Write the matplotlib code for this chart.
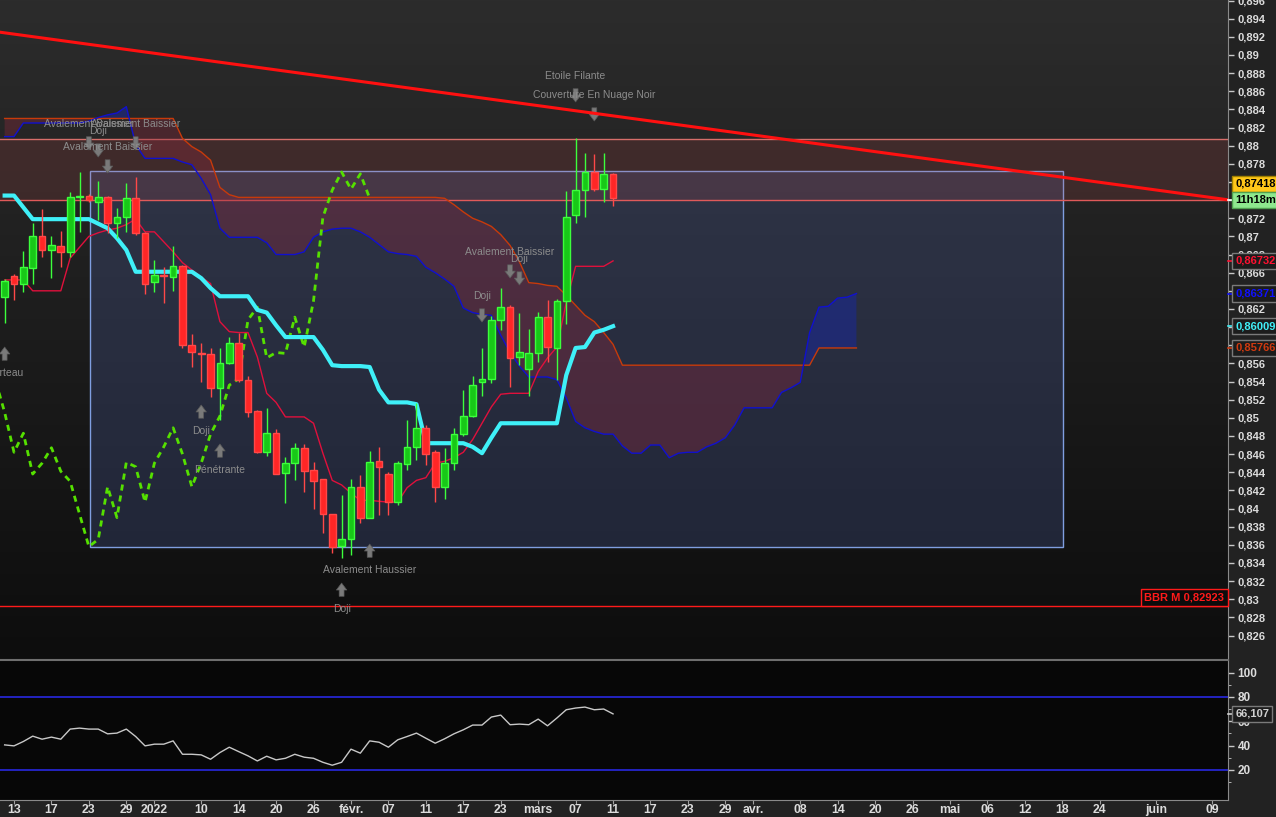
import numpy as np
import pandas as pd
import matplotlib
matplotlib.use("Agg")
import matplotlib.pyplot as plt
import matplotlib.transforms as mtransforms
from matplotlib.colors import LinearSegmentedColormap
from matplotlib.patches import Rectangle
from matplotlib.ticker import FixedLocator

plt.rcParams['font.family'] = ['Liberation Sans', 'DejaVu Sans']

## Daily candles, bar -1 = 10 Dec 2021 ... bar 64 = 11 Mar 2022
first_bar = '2021-12-10'

opens = [0.8633, 0.8656, 0.8647, 0.8665, 0.8700, 0.8685, 0.8689, 0.8683, 0.8743, 0.8745,
         0.8738, 0.8743, 0.8715, 0.8721, 0.8742, 0.8704, 0.8650, 0.8657, 0.8655, 0.8667,
         0.8580, 0.8571, 0.8570, 0.8533, 0.8560, 0.8583, 0.8542, 0.8507, 0.8462, 0.8483,
         0.8439, 0.8450, 0.8467, 0.8442, 0.8432, 0.8394, 0.8359, 0.8366, 0.8424, 0.8390,
         0.8452, 0.8438, 0.8407, 0.8449, 0.8468, 0.8489, 0.8462, 0.8424, 0.8450, 0.8482,
         0.8502, 0.8539, 0.8543, 0.8608, 0.8622, 0.8567, 0.8554, 0.8571, 0.8611, 0.8577,
         0.8629, 0.8724, 0.8751, 0.8771, 0.8752, 0.8769]
highs = [0.8653, 0.8659, 0.8684, 0.8715, 0.8730, 0.8700, 0.8706, 0.8749, 0.8771, 0.8747,
         0.8761, 0.8745, 0.8731, 0.8759, 0.8765, 0.8705, 0.8674, 0.8666, 0.8689, 0.8668,
         0.8592, 0.8582, 0.8577, 0.8577, 0.8589, 0.8593, 0.8546, 0.8509, 0.8511, 0.8488,
         0.8457, 0.8472, 0.8471, 0.8451, 0.8433, 0.8394, 0.8415, 0.8433, 0.8437, 0.8463,
         0.8468, 0.8440, 0.8452, 0.8498, 0.8516, 0.8492, 0.8465, 0.8467, 0.8489, 0.8531,
         0.8546, 0.8577, 0.8612, 0.8643, 0.8624, 0.8616, 0.8598, 0.8617, 0.8630, 0.8631,
         0.8750, 0.8808, 0.8792, 0.8791, 0.8792, 0.8770]
lows = [0.8604, 0.8630, 0.8639, 0.8647, 0.8677, 0.8654, 0.8666, 0.8677, 0.8705, 0.8738,
        0.8718, 0.8704, 0.8698, 0.8705, 0.8701, 0.8637, 0.8639, 0.8627, 0.8640, 0.8577,
        0.8556, 0.8539, 0.8523, 0.8498, 0.8559, 0.8539, 0.8501, 0.8461, 0.8458, 0.8438,
        0.8406, 0.8431, 0.8418, 0.8400, 0.8373, 0.8351, 0.8345, 0.8349, 0.8384, 0.8389,
        0.8393, 0.8393, 0.8404, 0.8442, 0.8453, 0.8448, 0.8407, 0.8411, 0.8442, 0.8480,
        0.8501, 0.8524, 0.8538, 0.8597, 0.8534, 0.8558, 0.8524, 0.8561, 0.8561, 0.8542,
        0.8603, 0.8715, 0.8721, 0.8750, 0.8738, 0.8733]
closes = [0.8651, 0.8647, 0.8666, 0.8700, 0.8685, 0.8690, 0.8683, 0.8743, 0.8745, 0.8740,
          0.8743, 0.8715, 0.8721, 0.8742, 0.8704, 0.8647, 0.8657, 0.8656, 0.8667, 0.8580,
          0.8572, 0.8570, 0.8533, 0.8560, 0.8582, 0.8542, 0.8506, 0.8462, 0.8483, 0.8438,
          0.8450, 0.8467, 0.8441, 0.8430, 0.8394, 0.8358, 0.8366, 0.8424, 0.8390, 0.8451,
          0.8446, 0.8407, 0.8450, 0.8468, 0.8489, 0.8460, 0.8424, 0.8450, 0.8482, 0.8502,
          0.8536, 0.8543, 0.8608, 0.8622, 0.8566, 0.8572, 0.8571, 0.8611, 0.8578, 0.8629,
          0.8721, 0.8751, 0.8771, 0.8752, 0.8769, 0.8742]

## Ichimoku lines (bars -1..64), senkou spans run 26 bars ahead (-1..90)
tenkan = [0.8652, 0.8652, 0.8652, 0.8640, 0.8640, 0.8640, 0.8640, 0.8676, 0.8688, 0.8700,
          0.8704, 0.8707, 0.8709, 0.8713, 0.8719, 0.8705, 0.8705, 0.8694, 0.8683, 0.8671,
          0.8663, 0.8655, 0.8648, 0.8606, 0.8595, 0.8594, 0.8594, 0.8567, 0.8527, 0.8517,
          0.8501, 0.8501, 0.8501, 0.8494, 0.8461, 0.8431, 0.8426, 0.8417, 0.8409, 0.8409,
          0.8408, 0.8407, 0.8407, 0.8423, 0.8431, 0.8434, 0.8450, 0.8452, 0.8456, 0.8462,
          0.8476, 0.8494, 0.8512, 0.8526, 0.8527, 0.8527, 0.8527, 0.8551, 0.8566, 0.8578,
          0.8627, 0.8667, 0.8667, 0.8667, 0.8667, 0.8673]
kijun = [0.8745, 0.8745, 0.8732, 0.8719, 0.8719, 0.8719, 0.8719, 0.8719, 0.8719, 0.8719,
         0.8714, 0.8709, 0.8698, 0.8685, 0.8661, 0.8661, 0.8661, 0.8661, 0.8661, 0.8661,
         0.8661, 0.8654, 0.8643, 0.8634, 0.8634, 0.8634, 0.8634, 0.8619, 0.8616, 0.8602,
         0.8589, 0.8589, 0.8589, 0.8589, 0.8575, 0.8558, 0.8557, 0.8557, 0.8557, 0.8556,
         0.8531, 0.8517, 0.8517, 0.8517, 0.8515, 0.8472, 0.8472, 0.8472, 0.8472, 0.8472,
         0.8468, 0.8461, 0.8478, 0.8494, 0.8494, 0.8494, 0.8494, 0.8494, 0.8494, 0.8494,
         0.8547, 0.8577, 0.8578, 0.8594, 0.8597, 0.8601]
span_a = [0.8830, 0.8830, 0.8830, 0.8830, 0.8830, 0.8830, 0.8830, 0.8830, 0.8830, 0.8830,
          0.8830, 0.8830, 0.8830, 0.8830, 0.8830, 0.8830, 0.8830, 0.8830, 0.8830, 0.8808,
          0.8799, 0.8793, 0.8784, 0.8754, 0.8746, 0.8743, 0.8743, 0.8743, 0.8743, 0.8743,
          0.8743, 0.8743, 0.8743, 0.8743, 0.8743, 0.8743, 0.8743, 0.8743, 0.8743, 0.8743,
          0.8743, 0.8743, 0.8743, 0.8743, 0.8743, 0.8743, 0.8743, 0.8742, 0.8735, 0.8727,
          0.8720, 0.8716, 0.8711, 0.8702, 0.8690, 0.8672, 0.8649, 0.8648, 0.8646, 0.8645,
          0.8635, 0.8624, 0.8613, 0.8606, 0.8594, 0.8581, 0.8558, 0.8558, 0.8558, 0.8558,
          0.8558, 0.8558, 0.8558, 0.8558, 0.8558, 0.8558, 0.8558, 0.8558, 0.8558, 0.8558,
          0.8558, 0.8558, 0.8558, 0.8558, 0.8558, 0.8558, 0.8558, 0.8577, 0.8577, 0.8577,
          0.8577, 0.8577]
span_b = [0.8810, 0.8810, 0.8825, 0.8825, 0.8825, 0.8825, 0.8825, 0.8825, 0.8825, 0.8827,
          0.8831, 0.8834, 0.8836, 0.8843, 0.8801, 0.8786, 0.8786, 0.8786, 0.8786, 0.8782,
          0.8779, 0.8764, 0.8746, 0.8709, 0.8699, 0.8699, 0.8699, 0.8699, 0.8693, 0.8680,
          0.8680, 0.8680, 0.8683, 0.8699, 0.8705, 0.8708, 0.8709, 0.8709, 0.8705, 0.8699,
          0.8691, 0.8683, 0.8681, 0.8680, 0.8678, 0.8666, 0.8660, 0.8653, 0.8645, 0.8621,
          0.8616, 0.8614, 0.8613, 0.8591, 0.8572, 0.8557, 0.8545, 0.8545, 0.8545, 0.8542,
          0.8522, 0.8496, 0.8489, 0.8485, 0.8482, 0.8482, 0.8469, 0.8461, 0.8461, 0.8470,
          0.8470, 0.8456, 0.8461, 0.8462, 0.8462, 0.8468, 0.8472, 0.8478, 0.8492, 0.8511,
          0.8511, 0.8511, 0.8511, 0.8528, 0.8533, 0.8539, 0.8594, 0.8622, 0.8623, 0.8632,
          0.8633, 0.8637]
chikou_shift = 26

## RSI (bars -1..64)
rsi = [40.6, 39.8, 43.4, 47.8, 45.3, 47.0, 45.3, 53.6, 54.4, 53.6,
       53.6, 49.7, 50.3, 53.6, 47.5, 39.8, 41.2, 41.2, 43.9, 32.9,
       32.9, 32.4, 28.8, 34.3, 38.7, 35.1, 31.6, 27.4, 31.3, 28.3,
       29.6, 32.9, 30.5, 29.6, 26.3, 23.9, 26.3, 37.1, 33.8, 43.9,
       42.8, 38.7, 44.8, 47.5, 50.3, 46.1, 42.0, 45.6, 49.7, 53.0,
       56.9, 56.9, 63.5, 65.1, 57.2, 57.7, 57.2, 61.8, 56.3, 62.7,
       69.5, 70.9, 71.7, 69.5, 70.1, 66.1]
rsi_levels = [80, 20]

## Drawings
trend_pts = [(0, 0.8923), (120, 0.8754)]
band_top, band_bottom = 0.8807, 0.8740
zone_x = (8.12, 112.1)
zone_y = (0.8358, 0.8772)
bbr_level = 0.82923

## Candlestick patterns: (text, bar, arrow tip price, +1 bearish / -1 bullish)
patterns = [
    ('Avalement Baissier', 8, 0.87953, 1),
    ('Doji', 9, 0.87875, 1),
    ('Avalement Baissier', 13, 0.87953, 1),
    ('Avalement Baissier', 10, 0.87699, 1),
    ('Etoile Filante', 60, 0.88482, 1),
    ('Couverture En Nuage Noir', 62, 0.88272, 1),
    ('Avalement Baissier', 53, 0.86541, 1),
    ('Doji', 54, 0.86464, 1),
    ('Doji', 50, 0.86056, 1),
    ('Marteau', -1, 0.85780, -1),
    ('Avalement Haussier', -3, 0.85119, -1),
    ('Doji', 20, 0.85141, -1),
    ('Pénétrante', 22, 0.84711, -1),
    ('Avalement Haussier', 38, 0.83608, -1),
    ('Doji', 35, 0.83178, -1),
]

tick_dates = ['2021-12-13', '2021-12-17', '2021-12-23', '2021-12-29', '2022-01-03',
              '2022-01-10', '2022-01-14', '2022-01-20', '2022-01-26', '2022-02-01',
              '2022-02-07', '2022-02-11', '2022-02-17', '2022-02-23', '2022-03-01',
              '2022-03-07', '2022-03-11', '2022-03-17', '2022-03-23', '2022-03-29',
              '2022-04-01', '2022-04-08', '2022-04-14', '2022-04-20', '2022-04-26',
              '2022-05-02', '2022-05-06', '2022-05-12', '2022-05-18', '2022-05-24',
              '2022-06-01', '2022-06-09']
tick_labels = ['13', '17', '23', '29', '2022', '10', '14', '20', '26', 'févr.',
               '07', '11', '17', '23', 'mars', '07', '11', '17', '23', '29',
               'avr.', '08', '14', '20', '26', 'mai', '06', '12', '18', '24',
               'juin', '09']
price_ticks = np.arange(0.826, 0.8965, 0.002)
# ticks hidden behind the value boxes on the right
covered_ticks = [0.858, 0.860, 0.864, 0.874, 0.876]

TXT = '#dcdcdc'

fig = plt.figure(figsize=(12.76, 8.17), dpi=100, facecolor='#222222')
W, H = 1276.0, 817.0
ax = fig.add_axes([0, 1 - 660 / H, 1228 / W, 660 / H])
ax2 = fig.add_axes([0, 1 - 800 / H, 1228 / W, 140 / H], sharex=ax)

# background gradient of the price panel
bg = LinearSegmentedColormap.from_list('bg', ['#2c2c2c', '#0d0d0d'])
ax.imshow(np.linspace(0, 1, 256).reshape(-1, 1), extent=(0, 1, 0, 1), transform=ax.transAxes,
          aspect='auto', cmap=bg, zorder=0)
ax.set_facecolor('#1a1a1a')
ax2.set_facecolor('#070707')

x = np.arange(len(opens)) - 1
xs = np.arange(len(span_a)) - 1
o, h, l, c = map(np.array, (opens, highs, lows, closes))
sa, sb = np.array(span_a), np.array(span_b)

# drawings
ax.add_patch(Rectangle((zone_x[0], zone_y[0]), zone_x[1] - zone_x[0], zone_y[1] - zone_y[0],
                       fc=(0.31, 0.39, 0.67, 0.25), ec='#7f9ee0', lw=1, zorder=1))
ax.axhspan(band_bottom, band_top, color=(0.78, 0.3, 0.3, 0.17), lw=0, zorder=1)
ax.axhline(band_top, color='#d66e6a', lw=1, zorder=2)
ax.axhline(band_bottom, color='#e05a5a', lw=1, zorder=2)
ax.axhline(bbr_level, color='#ff1a1a', lw=1, zorder=2)
ax.axline(trend_pts[0], trend_pts[1], color='#ff1010', lw=2.2, zorder=9)

# cloud
ax.fill_between(xs, sa, sb, where=sa >= sb, interpolate=True, color=(0.55, 0.16, 0.24, 0.36), lw=0, zorder=2)
ax.fill_between(xs, sa, sb, where=sa < sb, interpolate=True, color=(0.1, 0.16, 0.6, 0.55), lw=0, zorder=2)
ax.plot(xs, sa, color='#c83a0a', lw=1, zorder=3)
ax.plot(xs, sb, color='#1010d0', lw=1, zorder=3)

# lagging span: closes drawn 26 bars back
ax.plot(x[chikou_shift - 1:] - chikou_shift, c[chikou_shift - 1:], color='#55e000', lw=2,
        linestyle=(0, (2.2, 1.8)), zorder=4)
ax.plot(x, tenkan, color='#e0103c', lw=1, zorder=4)
ax.plot(x, kijun, color='#3ff0f8', lw=3, zorder=4)

# candles
up = c >= o
edge = np.where(up, '#3cff3c', '#ff4848')
ax.vlines(x, l, h, colors=edge, lw=1, zorder=6)
ax.bar(x, np.maximum(np.abs(c - o), 0.00003), bottom=np.minimum(o, c), width=0.72,
       color=np.where(up, '#18c818', '#ff2626'), edgecolor=edge, lw=1, zorder=7)

# pattern marks
for text, bar, tip, d in patterns:
    ax.annotate('', xy=(bar, tip), xytext=(0, 9.5 * d), textcoords='offset points',
                arrowprops=dict(arrowstyle='simple,head_length=0.5,head_width=0.75,tail_width=0.35',
                                fc='#7a7a7a', ec='#5a5a5a', lw=0.5, shrinkA=0, shrinkB=0,
                                mutation_scale=10), zorder=8)
    ax.annotate(text, xy=(bar, tip), xytext=(0, 18.5 * d), textcoords='offset points',
                ha='center', va='center', color='#8c8c8c', fontsize=7.5, zorder=8)

# axes limits and ticks
ax.set_xlim(-1.496, 129.7)
ax.set_ylim(0.82330, 0.89606)
ax2.set_ylim(-4.7, 110.4)
for a in (ax, ax2):
    for s in ('left', 'top', 'bottom'):
        a.spines[s].set_visible(False)
    a.spines['right'].set_color('#8a8a8a')
    a.yaxis.tick_right()
    a.tick_params(axis='y', colors='#c8c8c8', labelcolor=TXT, length=4, width=1, pad=3,
                  labelsize=8)
ax2.spines['top'].set_visible(True)
ax2.spines['top'].set_color('#6e6e6e')
ax2.spines['top'].set_linewidth(1.5)
ax2.spines['bottom'].set_visible(True)
ax2.spines['bottom'].set_color('#8a8a8a')

ax.yaxis.set_major_locator(FixedLocator(price_ticks))
ax.set_yticklabels(['' if np.isclose(covered_ticks, v).any()
                    else ('%.3f' % v).rstrip('0').replace('.', ',') for v in price_ticks],
                   fontweight='bold')
ax.tick_params(axis='x', bottom=False, labelbottom=False)

days = pd.bdate_range(first_bar, periods=200)
bar_of = {d: i - 1 for i, d in enumerate(days)}
ax2.set_xticks([bar_of[pd.Timestamp(d)] for d in tick_dates])
ax2.set_xticklabels(tick_labels, fontweight='bold')
ax2.tick_params(axis='x', colors='#a0a0a0', labelcolor=TXT, length=3, labelsize=8.8, pad=0)
ax2.set_yticks([20, 40, 60, 80, 100])
ax2.set_yticks([10, 30, 50, 70, 90], minor=True)
ax2.set_yticklabels(['20', '40', '60', '80', '100'], fontweight='bold')
ax2.tick_params(axis='y', which='minor', colors='#c8c8c8', length=2, right=True, left=False)
ax2.tick_params(axis='y', labelsize=8.5)

# RSI
for lev in rsi_levels:
    ax2.axhline(lev, color='#2828e0', lw=1.2)
ax2.plot(x, rsi, color='#c8c8c8', lw=1)

# value labels on the right axis
def side_label(axis, y, text, fc, tc, ec='#7a7a7a', tick=None):
    tr = mtransforms.blended_transform_factory(axis.transAxes, axis.transData)
    if tick:
        axis.plot([1.0, 1.004], [y, y], transform=tr, color=tick, lw=1.2, clip_on=False, zorder=19)
    axis.text(1.006, y, text, transform=tr, ha='left', va='center', fontsize=8,
              fontweight='bold', color=tc, clip_on=False, zorder=20,
              bbox=dict(boxstyle='square,pad=0.28', fc=fc, ec=ec, lw=1))

side_label(ax, 0.87580, '0,87418', '#ffc81a', '#000000', ec='#a08000')
side_label(ax, 0.87405, '11h18m', '#8ee88e', '#000000', ec='#50a050', tick='#ffffff')
side_label(ax, tenkan[-1], '0,86732', '#1c1c1c', '#ff1030', tick='#ff1030')
side_label(ax, span_b[-1], '0,86371', '#1c1c1c', '#1010ff', tick='#1010ff')
side_label(ax, kijun[-1], '0,86009', '#1c1c1c', '#40f0f8', tick='#40f0f8')
side_label(ax, span_a[-1], '0,85766', '#1c1c1c', '#d03a10', tick='#d03a10')
side_label(ax2, rsi[-1], '66,107', '#1c1c1c', '#d0d0d0', tick='#d0d0d0')

tr = mtransforms.blended_transform_factory(ax.transAxes, ax.transData)
ax.text(0.997, bbr_level + 0.0004, 'BBR M 0,82923', transform=tr, ha='right', va='bottom',
        color='#ff1a1a', fontsize=8, fontweight='bold', zorder=20,
        bbox=dict(boxstyle='square,pad=0.3', fc='#0c0c0c', ec='#ff1a1a', lw=1))

fig.savefig('out.png', dpi=100, facecolor=fig.get_facecolor())
